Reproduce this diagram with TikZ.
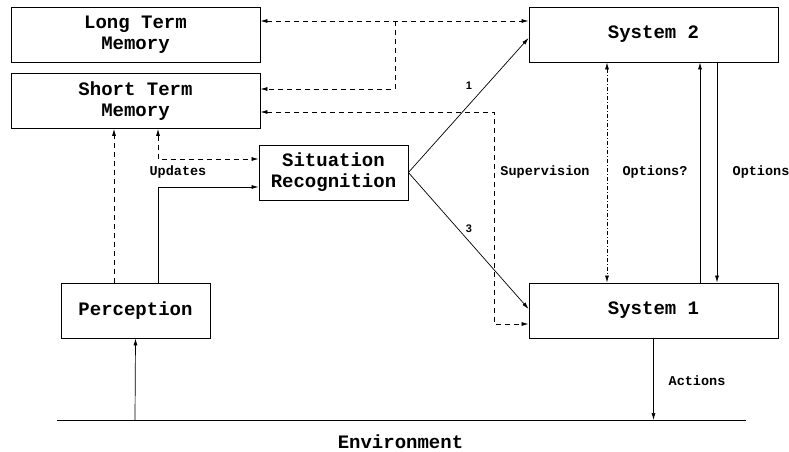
\documentclass[tikz,border=0pt]{standalone}
\usepackage{fontspec}
\setmainfont{Liberation Mono}
\newfontfamily\numfont{Liberation Sans}
\usetikzlibrary{arrows.meta,calc}
\begin{document}
\begin{tikzpicture}[x=1pt,y=-1pt,
  box/.style={draw,line width=0.8pt,inner sep=0pt,align=center,
    font=\fontsize{19}{21}\selectfont\bfseries},
  wide/.style={minimum width=249pt,minimum height=55pt},
  narrow/.style={minimum width=149pt,minimum height=55pt},
  lbl/.style={font=\fontsize{13.5}{15}\selectfont\bfseries,inner sep=0pt},
  num/.style={font=\fontsize{11}{13}\selectfont\numfont\bfseries,inner sep=0pt},
  conn/.style={line width=0.7pt},
  arr/.style={-{Latex[length=7pt,width=4pt]}},
  barr/.style={{Latex[length=7pt,width=4pt]}-{Latex[length=7pt,width=4pt]}},
  dsh/.style={dash pattern=on 5pt off 4pt},
  dshdot/.style={dash pattern=on 4pt off 2pt on 1pt off 2pt}]
\useasboundingbox (0,0) rectangle (789,452);
\node[box,wide]   (ltm) at (135.5,34.5) {Long Term\\Memory};
\node[box,wide]   (stm) at (135.5,101)  {Short Term\\Memory};
\node[box,narrow] (sr)  at (333.5,172.5) {Situation\\Recognition};
\node[box,wide]   (s2)  at (653.5,34.5) {System 2};
\node[box,wide]   (s1)  at (653.5,310.5) {System 1};
\node[box,narrow] (per) at (135.5,310.5) {Perception};
\coordinate (envL) at (57,420);
\coordinate (envR) at (746,420);
\draw[conn] (envL) -- (envR);
\node[box,draw=none] (envlbl) at (400.5,442) {Environment};
% long/short term memory links
\coordinate (y21) at (0,21);
\coordinate (j1) at (395,21);
\coordinate (j1b) at (395,89);
\draw[conn,dsh,barr] (ltm.east |- y21) -- (s2.west |- y21);
\draw[conn,dsh,arr] (j1) -- (j1b) -- (stm.east |- j1b);
\coordinate (k1) at (494,112);
\coordinate (k2) at (494,324);
\draw[conn,dsh,barr] (stm.east |- k1) -- (k1) -- (k2) -- (s1.west |- k2);
% updates
\coordinate (u1) at (158,159);
\draw[conn,dsh,barr] (stm.south -| u1) -- (u1) -- (sr.west |- u1);
\coordinate (p1) at (158,187);
\draw[conn,arr] (per.north -| p1) -- (p1) -- (sr.west |- p1);
\coordinate (p2) at (114,200);
\draw[conn,dsh,arr] (per.north -| p2) -- (stm.south -| p2);
% situation recognition to systems
\coordinate (a2) at (0,38);
\coordinate (a1) at (0,309);
\draw[conn,arr] (sr.east) -- (s2.west |- a2);
\draw[conn,arr] (sr.east) -- (s1.west |- a1);
% system links
\coordinate (o1) at (607,0);
\coordinate (o2) at (700,0);
\coordinate (o3) at (717,0);
\draw[conn,dshdot,barr] (s2.south -| o1) -- (s1.north -| o1);
\draw[conn,arr] (s1.north -| o2) -- (s2.south -| o2);
\draw[conn,arr] (s2.south -| o3) -- (s1.north -| o3);
\draw[conn,arr] (s1.south) -- (s1.south |- envL);
\coordinate (e1) at (135,0);
\draw[conn,arr] (envL -| e1) -- (per.south);
% labels
\node[num] (n1) at (469,86) {1};
\node[num] (n3) at (469,229) {3};
\node[lbl] (lup) at (178,172) {Updates};
\node[lbl] (lsup) at (545,172) {Supervision};
\node[lbl] (lopq) at (655,172) {Options?};
\node[lbl] (lop) at (761,172) {Options};
\node[lbl] (lact) at (697,381) {Actions};
\end{tikzpicture}
\end{document}
